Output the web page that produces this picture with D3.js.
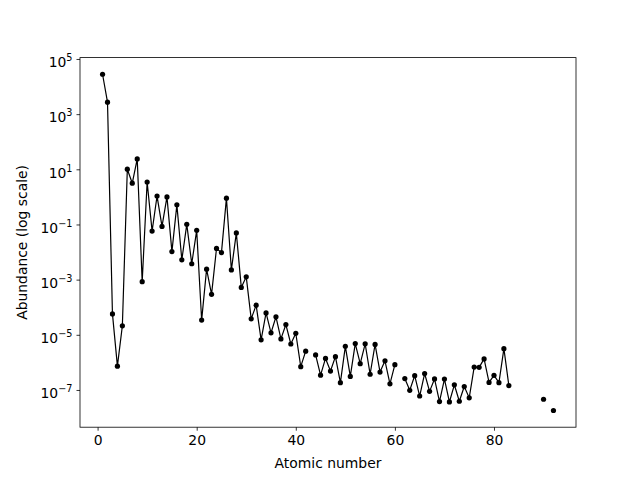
<!DOCTYPE html>
<html>
<head>
<meta charset="utf-8">
<script src="https://cdn.jsdelivr.net/npm/d3@7"></script>
<style>
  body { margin: 0; background: #fff; }
  svg { display: block; font-family: "DejaVu Sans", sans-serif; }
</style>
</head>
<body>
<svg id="chart" width="640" height="480"></svg>
<script>
// Atomic numbers 1..92 and abundances (relative to Si = 1); null = missing element
const atomicNumbers = d3.range(1, 93);
const abundances = [
  2.79e4, 2.72e3, 5.71e-5, 7.3e-7, 2.12e-5, 10.1, 3.13, 23.8, 8.43e-4, 3.44,
  5.74e-2, 1.074, 8.49e-2, 1.0, 1.04e-2, 0.515, 5.24e-3, 0.101, 3.77e-3, 6.11e-2,
  3.42e-5, 2.4e-3, 2.93e-4, 1.35e-2, 9.55e-3, 0.9, 2.25e-3, 4.93e-2, 5.22e-4, 1.26e-3,
  3.78e-5, 1.19e-4, 6.56e-6, 6.21e-5, 1.18e-5, 4.5e-5, 7.09e-6, 2.35e-5, 4.64e-6, 1.14e-5,
  6.98e-7, 2.55e-6, null, 1.86e-6, 3.44e-7, 1.39e-6, 4.86e-7, 1.61e-6, 1.84e-7, 3.82e-6,
  3.09e-7, 4.81e-6, 9.0e-7, 4.7e-6, 3.72e-7, 4.49e-6, 4.46e-7, 1.136e-6, 1.669e-7, 8.279e-7,
  null, 2.582e-7, 9.73e-8, 3.3e-7, 6.03e-8, 3.942e-7, 8.89e-8, 2.508e-7, 3.78e-8, 2.479e-7,
  3.67e-8, 1.54e-7, 3.9e-8, 1.33e-7, 5.17e-8, 6.75e-7, 6.61e-7, 1.34e-6, 1.87e-7, 3.4e-7,
  1.84e-7, 3.15e-6, 1.44e-7, null, null, null, null, null, null, 4.6e-8,
  null, 1.8e-8
];
const xTicks = [0, 20, 40, 60, 80];
const yTickExponents = [5, 3, 1, -1, -3, -5, -7];
const xLabel = "Atomic number";
const yLabel = "Abundance (log scale)";

const data = atomicNumbers.map((z, i) => ({ z, v: abundances[i] }));

const svg = d3.select("#chart");
const L = 80, R = 576, T = 57.6, B = 427.2;

const x = d3.scaleLinear().domain([-3.55, 96.55]).range([L, R]);
const y = d3.scaleLog().domain([Math.pow(10, -8.35), Math.pow(10, 5.05)]).range([B, T]);

// line with gaps
const line = d3.line()
  .defined(d => d.v !== null)
  .x(d => x(d.z))
  .y(d => y(d.v));

svg.append("path")
  .datum(data)
  .attr("d", line)
  .attr("fill", "none")
  .attr("stroke", "#000")
  .attr("stroke-width", 1.2)
  .attr("stroke-linejoin", "round");

svg.append("g").selectAll("circle")
  .data(data.filter(d => d.v !== null))
  .join("circle")
  .attr("cx", d => x(d.z))
  .attr("cy", d => y(d.v))
  .attr("r", 2.6)
  .attr("fill", "#000");

// x axis
const xAxis = d3.axisBottom(x).tickValues(xTicks).tickSize(3.5).tickPadding(3.5);
const gx = svg.append("g").attr("transform", `translate(0,${B})`).call(xAxis);
gx.select(".domain").remove();
gx.selectAll("line").attr("stroke", "#000").attr("stroke-width", 0.8);
gx.selectAll("text").attr("font-size", 13.9).attr("fill", "#000")
  .attr("font-family", "DejaVu Sans, sans-serif").attr("dy", "0.75em");

// y axis
const yAxis = d3.axisLeft(y).tickValues(yTickExponents.map(e => Math.pow(10, e)))
  .tickSize(3.5).tickFormat("");
const gy = svg.append("g").attr("transform", `translate(${L},0)`).call(yAxis);
gy.select(".domain").remove();
gy.selectAll("line").attr("stroke", "#000").attr("stroke-width", 0.8);

const ylab = svg.append("g").selectAll("text")
  .data(yTickExponents)
  .join("text")
  .attr("x", L - 7.5)
  .attr("y", e => y(Math.pow(10, e)) + 8.3)
  .attr("text-anchor", "end")
  .attr("font-size", 13.9)
  .attr("fill", "#000");
ylab.append("tspan").text("10");
ylab.append("tspan")
  .attr("font-size", 9.7)
  .attr("dy", -6)
  .text(e => (e < 0 ? "\u2212" : "") + Math.abs(e));

// frame
svg.append("rect")
  .attr("x", L).attr("y", T)
  .attr("width", R - L).attr("height", B - T)
  .attr("fill", "none").attr("stroke", "#000").attr("stroke-width", 0.8);

// labels
svg.append("text")
  .attr("x", (L + R) / 2).attr("y", 467.5)
  .attr("text-anchor", "middle").attr("font-size", 13.9).attr("fill", "#000")
  .text(xLabel);

svg.append("text")
  .attr("transform", `translate(27,${(T + B) / 2}) rotate(-90)`)
  .attr("text-anchor", "middle").attr("font-size", 13.9).attr("fill", "#000")
  .text(yLabel);
</script>
</body>
</html>
